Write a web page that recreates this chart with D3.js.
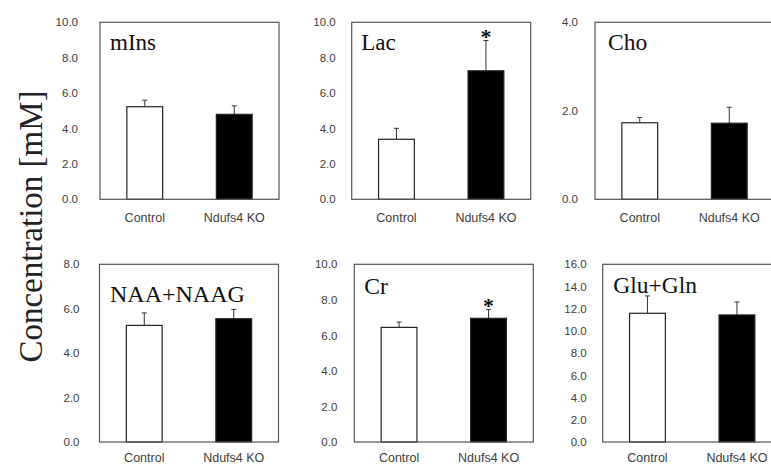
<!DOCTYPE html>
<html>
<head>
<meta charset="utf-8">
<script src="https://cdn.jsdelivr.net/npm/d3@7"></script>
<style>
  html, body { margin: 0; padding: 0; background: #fff; overflow: hidden; }
</style>
</head>
<body>
<div id="chart"></div>
<script>
// values (mean, upper SD)
const groups = ["Control", "Ndufs4 KO"]
const metabolites = ["mIns", "Lac", "Cho", "NAA+NAAG", "Cr", "Glu+Gln"]
const controlMean = [5.23, 3.39, 1.73, 5.25, 6.45, 11.59]
const controlSd   = [0.37, 0.62, 0.12, 0.56, 0.30, 1.56]
const koMean      = [4.80, 7.26, 1.72, 5.55, 6.96, 11.44]
const koSd        = [0.48, 1.71, 0.36, 0.42, 0.49, 1.17]
const significant = [false, true, false, false, true, false]
const yMax        = [10, 10, 4, 8, 10, 16]
const yStep       = [2, 2, 2, 2, 2, 2]

// panel layout
const boxLeft   = [100, 351.7, 595, 99.5, 354.3, 602.7]
const rowTop    = [22.3, 22.3, 22.3, 264.3, 264.3, 264.3]
const rowBottom = [199.3, 199.3, 199.3, 442, 442, 442]
const boxW = 179
const tickGap   = [22, 16, 17, 20, 17, 16]
const labelPad  = [14, 14, 14, 11.5, 11.5, 11.5]
const titleDx   = [10, 9.5, 13, 10.5, 10, 10.5]
const titleY    = [50, 50, 50, 302, 293.5, 293]
const titleSize = [23, 23, 23.5, 24, 23.5, 23.5]

const W = 771, H = 464
const svg = d3.select("#chart").append("svg")
    .attr("width", W)
    .attr("height", H)
    .style("display", "block")

const serif = "'Liberation Serif', 'Times New Roman', serif"
const sans = "'Liberation Sans', Arial, sans-serif"

// shared y title
svg.append("text")
    .attr("transform", "translate(42,226.5) rotate(-90)")
    .attr("text-anchor", "middle")
    .style("font-family", serif)
    .style("font-size", "33px")
    .attr("fill", "#222")
    .text("Concentration [mM]")

metabolites.forEach((name, i) => {
    const top = rowTop[i], bottom = rowBottom[i]
    const g = svg.append("g").attr("transform", "translate(" + boxLeft[i] + ",0)")

    const x = d3.scaleBand()
        .domain(groups)
        .range([0, boxW])
        .paddingInner(0.6)
        .paddingOuter(0.3)
    const y = d3.scaleLinear()
        .domain([0, yMax[i]])
        .range([bottom, top])

    // y axis, labels only
    const yAxis = g.append("g")
        .call(d3.axisLeft(y)
            .tickValues(d3.range(0, yMax[i] + 0.001, yStep[i]))
            .tickFormat(d3.format(".1f"))
            .tickSize(0)
            .tickPadding(tickGap[i]))
    yAxis.select(".domain").remove()
    yAxis.selectAll("text")
        .style("font-family", sans)
        .style("font-size", "11.5px")
        .attr("fill", "#404040")

    // x axis, labels only
    const xAxis = g.append("g")
        .attr("transform", "translate(0," + bottom + ")")
        .call(d3.axisBottom(x).tickSize(0).tickPadding(labelPad[i]))
    xAxis.select(".domain").remove()
    xAxis.selectAll("text")
        .style("font-family", sans)
        .style("font-size", "12.5px")
        .attr("fill", "#404040")

    const data = [
        {group: groups[0], mean: controlMean[i], sd: controlSd[i], fill: "#fff"},
        {group: groups[1], mean: koMean[i], sd: koSd[i], fill: "#000"}
    ]

    // error bars (upper only)
    data.forEach(d => {
        const cx = x(d.group) + x.bandwidth() / 2
        g.append("line")
            .attr("x1", cx).attr("x2", cx)
            .attr("y1", y(d.mean)).attr("y2", y(d.mean + d.sd))
            .attr("stroke", "#333").attr("stroke-width", 1)
        g.append("line")
            .attr("x1", cx - 2.5).attr("x2", cx + 2.5)
            .attr("y1", y(d.mean + d.sd)).attr("y2", y(d.mean + d.sd))
            .attr("stroke", "#333").attr("stroke-width", 1)
    })

    g.selectAll("rect.bar")
        .data(data)
        .enter()
        .append("rect")
            .attr("class", "bar")
            .attr("x", d => x(d.group))
            .attr("y", d => y(d.mean))
            .attr("width", x.bandwidth())
            .attr("height", d => y(0) - y(d.mean))
            .attr("fill", d => d.fill)
            .attr("stroke", "#222")
            .attr("stroke-width", 1.2)

    if (significant[i]) {
        const d = data[1]
        g.append("text")
            .attr("x", x(d.group) + x.bandwidth() / 2)
            .attr("y", y(d.mean + d.sd) + 3)
            .attr("text-anchor", "middle")
            .style("font-family", serif)
            .style("font-size", "22px")
            .style("font-weight", "bold")
            .attr("fill", "#111")
            .text("*")
    }

    // frame
    g.append("rect")
        .attr("x", 0).attr("y", top)
        .attr("width", boxW).attr("height", bottom - top)
        .attr("fill", "none")
        .attr("stroke", "#555")
        .attr("stroke-width", 1.2)

    g.append("text")
        .attr("x", titleDx[i])
        .attr("y", titleY[i])
        .style("font-family", serif)
        .style("font-size", titleSize[i] + "px")
        .attr("fill", "#111")
        .text(name)
})
</script>
</body>
</html>
